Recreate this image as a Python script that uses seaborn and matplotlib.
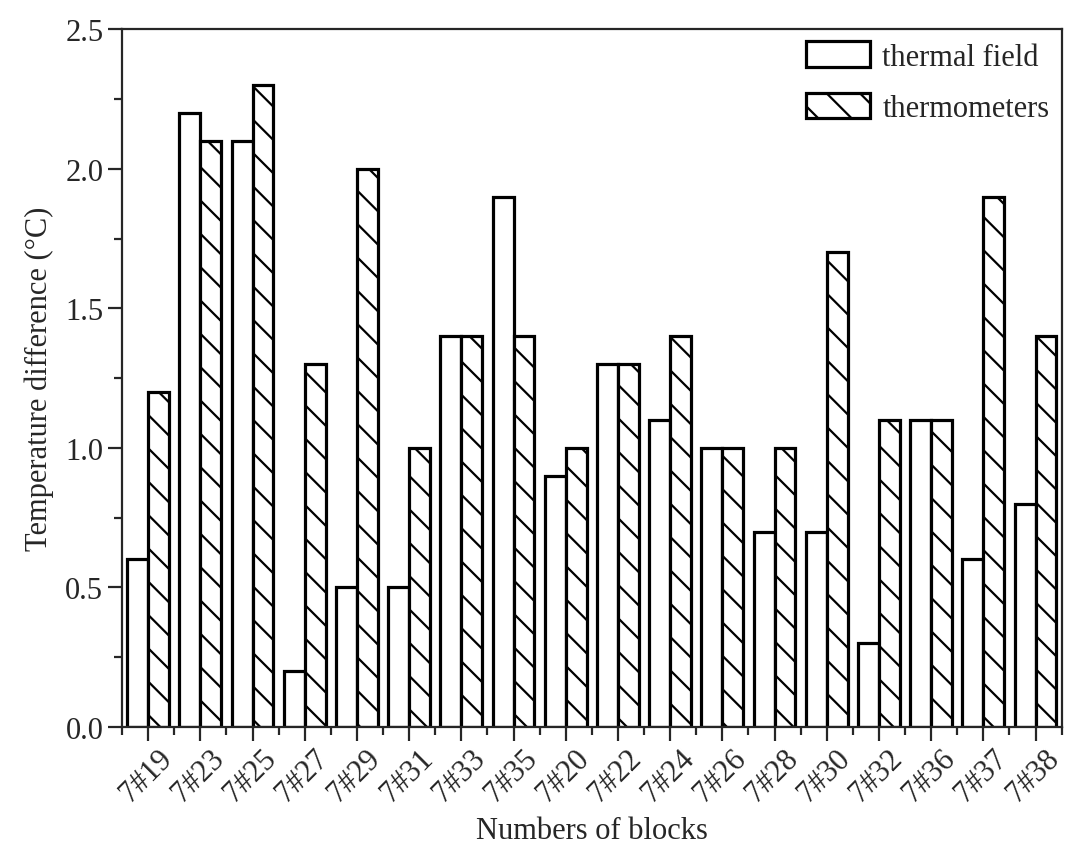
import pandas as pd
import matplotlib
matplotlib.use("Agg")
import matplotlib.pyplot as plt
import matplotlib.transforms as mtransforms
import seaborn as sns
from matplotlib.patches import Patch
from matplotlib.ticker import MultipleLocator, FormatStrFormatter

# Data
blocks = ["7#19", "7#23", "7#25", "7#27", "7#29", "7#31", "7#33", "7#35", "7#20",
          "7#22", "7#24", "7#26", "7#28", "7#30", "7#32", "7#36", "7#37", "7#38"]
thermal_field = [0.6, 2.2, 2.1, 0.2, 0.5, 0.5, 1.4, 1.9, 0.9,
                 1.3, 1.1, 1.0, 0.7, 0.7, 0.3, 1.1, 0.6, 0.8]
thermometers = [1.2, 2.1, 2.3, 1.3, 2.0, 1.0, 1.4, 1.4, 1.0,
                1.3, 1.4, 1.0, 1.0, 1.7, 1.1, 1.1, 1.9, 1.4]
series = ["thermal field", "thermometers"]

df = pd.DataFrame({"block": blocks * 2,
                   "value": thermal_field + thermometers,
                   "source": [series[0]] * len(blocks) + [series[1]] * len(blocks)})

sns.set_style("ticks")
plt.rcParams['font.family'] = ['Liberation Serif', 'DejaVu Serif']
plt.rcParams['hatch.linewidth'] = 1.6
plt.rcParams['axes.linewidth'] = 1.6

fig = plt.figure(figsize=(10.8, 8.62), dpi=100)
ax = fig.add_axes([0.113, 0.1555, 0.870, 0.8095])

sns.barplot(data=df, x="block", y="value", hue="source", order=blocks,
            hue_order=series, palette=["white", "white"], edgecolor="black",
            linewidth=2.3, width=0.8, errorbar=None, legend=False, ax=ax)

n = len(blocks)
for i, p in enumerate(ax.patches[:2 * n]):
    if i >= n:
        p.set_hatch("\\")

ax.set_xlim(-0.5, n - 0.5)
ax.set_ylim(0, 2.5)
ax.yaxis.set_major_locator(MultipleLocator(0.5))
ax.yaxis.set_minor_locator(MultipleLocator(0.25))
ax.xaxis.set_minor_locator(MultipleLocator(1, offset=0.5))
ax.yaxis.set_major_formatter(FormatStrFormatter("%.1f"))

ax.tick_params(axis="both", which="major", direction="out", length=10, width=1.6, labelsize=22)
ax.tick_params(axis="both", which="minor", direction="out", length=5.5, width=1.6)
ax.tick_params(axis="x", which="major", pad=2)

# rotated block labels, nudged right a little
shift = mtransforms.ScaledTranslation(0.09, 0, fig.dpi_scale_trans)
for lbl in ax.get_xticklabels():
    lbl.set_rotation(45)
    lbl.set_ha("right")
    lbl.set_rotation_mode("anchor")
    lbl.set_transform(lbl.get_transform() + shift)

for side in ["top", "right", "left", "bottom"]:
    ax.spines[side].set_visible(True)

ax.set_xlabel("Numbers of blocks", fontsize=22, labelpad=6)
ax.set_ylabel("Temperature difference (°C)", fontsize=22, labelpad=8)

handles = [Patch(facecolor="white", edgecolor="black", linewidth=2.3, label=series[0]),
           Patch(facecolor="white", edgecolor="black", linewidth=2.3, hatch="\\", label=series[1])]
ax.legend(handles=handles, loc="upper right", frameon=False, fontsize=22,
          handlelength=2.1, handleheight=0.9, handletextpad=0.4, labelspacing=0.7,
          borderaxespad=0.0)

fig.savefig("out.png", dpi=100)
